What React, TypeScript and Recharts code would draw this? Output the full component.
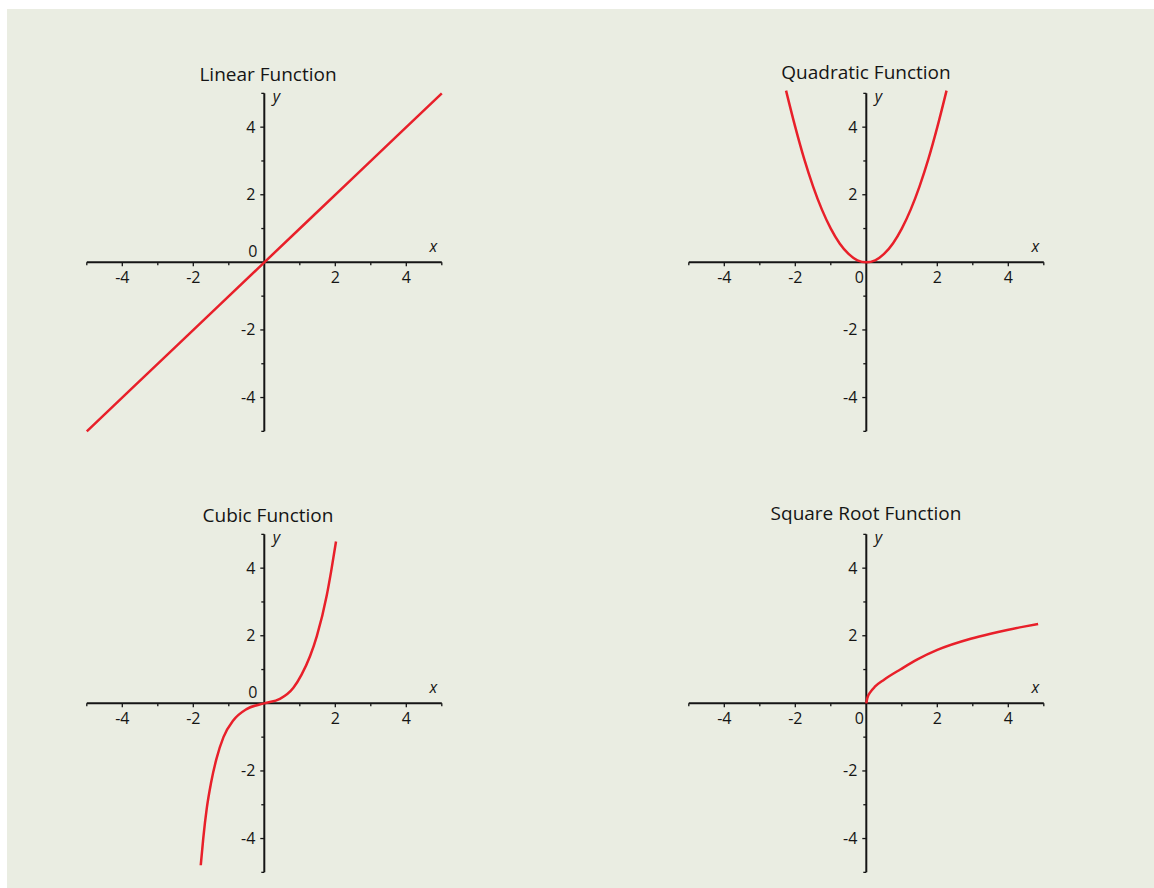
import React from 'react';
import { LineChart, Line, XAxis, YAxis, ReferenceLine } from 'recharts';

// values
const linearX = [-5, -2.5, 0, 2.5, 5];
const linearY = [-5, -2.5, 0, 2.5, 5];

const quadX = [-2.26, -2, -1.75, -1.5, -1.25, -1, -0.75, -0.5, -0.25, 0, 0.25, 0.5, 0.75, 1, 1.25, 1.5, 1.75, 2, 2.26];
const quadY = [5.08, 4, 3.06, 2.25, 1.56, 1, 0.56, 0.25, 0.06, 0, 0.06, 0.25, 0.56, 1, 1.56, 2.25, 3.06, 4, 5.08];

const cubicX = [-1.79, -1.72, -1.62, -1.5, -1.35, -1.15, -0.87, -0.5, 0, 0.44, 0.82, 1.05, 1.29, 1.48, 1.76, 1.89, 2.02];
const cubicY = [-4.79, -4.0, -3.1, -2.35, -1.65, -1.0, -0.5, -0.17, 0, 0.13, 0.46, 0.85, 1.4, 1.99, 3.2, 3.95, 4.79];

const sqrtX = [0, 0.03, 0.12, 0.25, 0.5, 0.97, 1.44, 2.0, 2.94, 3.5, 3.97, 4.44, 4.84];
const sqrtY = [0, 0.16, 0.34, 0.5, 0.7, 1.01, 1.3, 1.58, 1.91, 2.06, 2.17, 2.27, 2.35];

const ticks = [-5, -4, -3, -2, -1, 1, 2, 3, 4, 5];
const tickLabels = [-4, -2, 2, 4];

const toRows = (xs: number[], ys: number[]) => xs.map((x, i) => ({ x, y: ys[i] }));

const RED = '#e8202a';
const INK = '#151515';
const FONT = '"Open Sans", sans-serif';
const DOMAIN: [number, number] = [-5.2, 5.2];

const XTick = ({ x1, y1, y2, v }: any) => {
  const my = (y1 + y2) / 2;
  const major = v % 2 === 0;
  return (
    <g>
      <line x1={x1} x2={x1} y1={my} y2={my + (major ? 4 : 3)} stroke={INK} strokeWidth={1.3} />
      {tickLabels.includes(v) && (
        <text x={x1} y={my + 21} textAnchor="middle" style={{ fontSize: 16, fontFamily: FONT }} fill={INK}>
          {v}
        </text>
      )}
    </g>
  );
};

const YTick = ({ x1, x2, y1, v }: any) => {
  const mx = (x1 + x2) / 2;
  const major = v % 2 === 0;
  return (
    <g>
      <line x1={mx - (major ? 4 : 3)} x2={mx} y1={y1} y2={y1} stroke={INK} strokeWidth={1.3} />
      {tickLabels.includes(v) && (
        <text x={mx - 9} y={y1 + 5.5} textAnchor="end" style={{ fontSize: 16, fontFamily: FONT }} fill={INK}>
          {v}
        </text>
      )}
    </g>
  );
};

const OriginLabels = ({ x1, y1, y2, zeroBelow }: any) => {
  const oy = (y1 + y2) / 2;
  return (
    <g style={{ fontFamily: FONT }} fill={INK}>
      {zeroBelow ? (
        <text x={x1 - 2.5} y={oy + 21} textAnchor="end" style={{ fontSize: 16 }}>0</text>
      ) : (
        <text x={x1 - 7} y={oy - 5.5} textAnchor="end" style={{ fontSize: 16 }}>0</text>
      )}
      <text x={x1 + 8.5} y={oy - 160} style={{ fontSize: 16, fontStyle: 'italic' }}>y</text>
      <text x={x1 + 169} y={oy - 10} textAnchor="middle" style={{ fontSize: 16, fontStyle: 'italic' }}>x</text>
    </g>
  );
};

function Panel({ title, data, left, top, titleX, titleY, zeroBelow }: any) {
  return (
    <div style={{ position: 'absolute', left, top }}>
      <div
        style={{
          position: 'absolute', left: titleX - 150, top: titleY - 19.4, width: 300,
          textAlign: 'center', fontSize: 19, lineHeight: '24px', color: INK, fontFamily: FONT,
        }}
      >
        {title}
      </div>
      <LineChart width={540} height={436} data={data}
        margin={{ top: 77.6, left: 72.7, right: 540 - 72.7 - 369.2, bottom: 436 - 77.6 - 351.5 }}>
        <XAxis type="number" dataKey="x" domain={DOMAIN} allowDataOverflow hide height={0} />
        <YAxis type="number" domain={DOMAIN} allowDataOverflow hide width={0} />
        <ReferenceLine segment={[{ x: -5, y: 0 }, { x: 5, y: 0 }]} stroke={INK} strokeWidth={2} />
        <ReferenceLine segment={[{ x: 0, y: -5 }, { x: 0, y: 5 }]} stroke={INK} strokeWidth={2} />
        {ticks.map((v) => (
          <ReferenceLine key={'x' + v} x={v} shape={(p: any) => <XTick {...p} v={v} />} />
        ))}
        {ticks.map((v) => (
          <ReferenceLine key={'y' + v} y={v} shape={(p: any) => <YTick {...p} v={v} />} />
        ))}
        <ReferenceLine x={0} shape={(p: any) => <OriginLabels {...p} zeroBelow={zeroBelow} />} />
        <Line dataKey="y" type="monotone" stroke={RED} strokeWidth={2.5} dot={false} isAnimationActive={false} />
      </LineChart>
    </div>
  );
}

export default function App() {
  return (
    <div style={{ position: 'absolute', left: 7, top: 9, width: 1147, height: 879, background: '#eaede2', overflow: 'hidden', fontFamily: FONT }}>
      <Panel title="Linear Function" data={toRows(linearX, linearY)} left={0} top={0} titleX={261} titleY={72} />
      <Panel title="Quadratic Function" data={toRows(quadX, quadY)} left={601.7} top={0} titleX={257.3} titleY={70} zeroBelow />
      <Panel title="Cubic Function" data={toRows(cubicX, cubicY)} left={0} top={441.4} titleX={261} titleY={72} />
      <Panel title="Square Root Function" data={toRows(sqrtX, sqrtY)} left={601.7} top={441.4} titleX={257.3} titleY={70} zeroBelow />
    </div>
  );
}
